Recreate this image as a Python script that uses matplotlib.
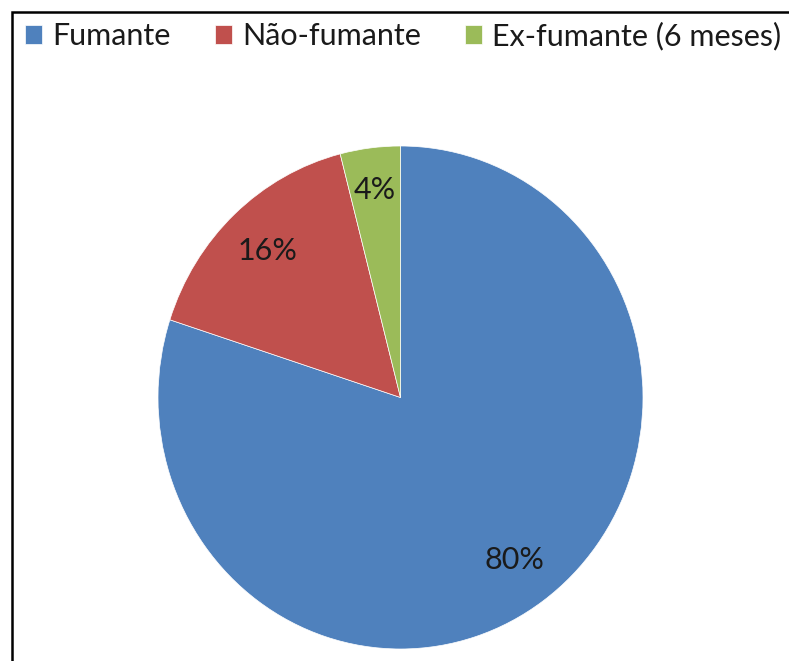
import matplotlib
matplotlib.use("Agg")
import matplotlib.pyplot as plt
from matplotlib.patches import Rectangle

categories = ["Fumante", "Não-fumante", "Ex-fumante (6 meses)"]
values = [80, 16, 4]
colors = ["#4F81BD", "#C0504D", "#9BBB59"]

plt.rcParams['font.family'] = ['Lato', 'DejaVu Sans']

W, H = 789, 661
fig = plt.figure(figsize=(W / 100, H / 100), dpi=100)

# pie axes (slightly taller than wide, as in reference)
left, right, top, bottom = 158, 643, 146, 649
ax = fig.add_axes([left / W, (H - bottom) / H, (right - left) / W, (bottom - top) / H])
wedges, texts, autotexts = ax.pie(values, colors=colors, startangle=90, counterclock=False,
                                  autopct=lambda p: f"{p:.0f}%", pctdistance=0.8,
                                  wedgeprops=dict(linewidth=0.5, edgecolor="white"),
                                  textprops=dict(fontsize=22, color="#1a1a1a"))
x4, y4 = autotexts[2].get_position()
autotexts[2].set_position((x4 * 1.04, y4 * 1.04))
ax.set_aspect('auto')
ax.set_xlim(-1, 1)
ax.set_ylim(-1, 1)
ax.axis('off')

fig.legend(wedges, categories, loc='center left', bbox_to_anchor=(25 / W, 1 - 36 / H),
           ncol=3, frameon=False, fontsize=22, handlelength=0.56, handleheight=0.56,
           handletextpad=0.33, columnspacing=1.45, borderaxespad=0, borderpad=0,
           labelcolor="#1a1a1a")

# outer border
fig.patches.append(Rectangle((12 / W, -0.1), 1.2, 1 - 12 / H + 0.1, transform=fig.transFigure,
                             fill=False, edgecolor="black", linewidth=1.8))

fig.savefig("out.png", dpi=100)
